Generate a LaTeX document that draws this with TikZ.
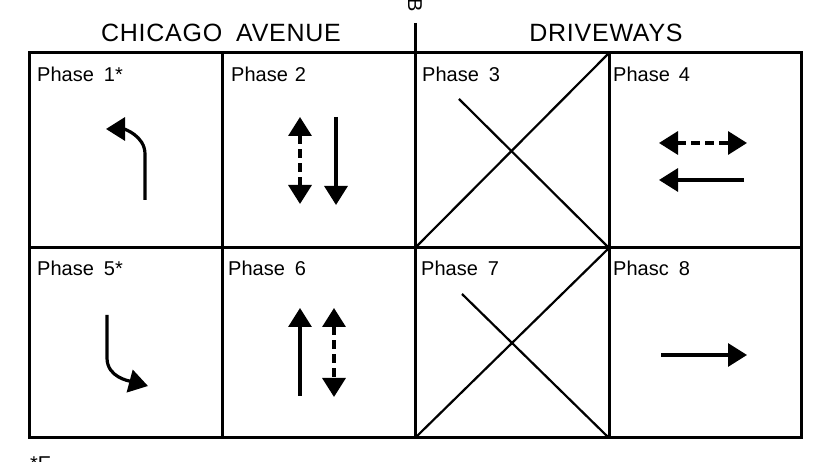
\documentclass[tikz,border=0pt]{standalone}
\usepackage{fontspec}
\setmainfont{Liberation Sans}
\usetikzlibrary{arrows.meta}
\tikzset{
  grid/.style={line width=3pt},
  cross/.style={line width=2.2pt},
  shaft/.style={line width=3.2pt, -{Triangle[length=19pt,width=23pt]}},
  dshaft/.style={line width=3.4pt, {Triangle[length=19pt,width=23pt]}-{Triangle[length=19pt,width=23pt]}, dash pattern=on 9pt off 5pt},
  phase/.style={anchor=base west, inner sep=0pt, font=\fontsize{20}{24}\selectfont},
  header/.style={anchor=base, inner sep=0pt, font=\fontsize{25}{30}\selectfont\addfontfeature{LetterSpace=3}},
}
\begin{document}
\begin{tikzpicture}[x=1pt,y=1pt]
\useasboundingbox (0,0) rectangle (817,462);
% grid
\draw[grid] (29,24) rectangle (801,409);
\draw[grid] (29,214) -- (801,214);
\draw[grid] (222,24) -- (222,409);
\draw[grid] (609,24) -- (609,409);
\coordinate (mtop) at (415,439);
\coordinate (mbot) at (415,24);
\draw[grid] (mtop) -- (mbot);
% headers
\node[header] (hca) at (221,420) {CHICAGO\hspace{14pt}AVENUE};
\node[header] (hdr) at (606,420) {DRIVEWAYS};
\node[rotate=-90, inner sep=0pt, font=\fontsize{20}{24}\selectfont] (hb) at (415,457) {B};
% labels
\node[phase] (p1) at (37,380) {Phase\hspace{10pt}1*};
\node[phase] (p2) at (231,380) {Phase\hspace{7pt}2};
\node[phase] (p3) at (422,380) {Phase\hspace{10pt}3};
\node[phase] (p4) at (613,380) {Phase\hspace{9pt}4};
\node[phase] (p5) at (37,186) {Phase\hspace{10pt}5*};
\node[phase] (p6) at (228,186) {Phase\hspace{10pt}6};
\node[phase] (p7) at (421,186) {Phase\hspace{10pt}7};
\node[phase] (p8) at (613,186) {Phasc\hspace{10pt}8};
% footnote (cut off)
\node[phase] (fn) at (30,-9) {*E};
% crosses
\coordinate (x3a) at (415,214); \coordinate (x3b) at (609,409);
\coordinate (x3c) at (459,363); \coordinate (x3d) at (609,214);
\draw[cross] (x3a) -- (x3b);
\draw[cross] (x3c) -- (x3d);
\coordinate (x7a) at (415,24); \coordinate (x7b) at (609,214);
\coordinate (x7c) at (462,168); \coordinate (x7d) at (609,24);
\draw[cross] (x7a) -- (x7b);
\draw[cross] (x7c) -- (x7d);
% phase 1
\draw[shaft] (145,262) -- (145,308) to[out=90,in=0] (106,333);
% phase 2
\draw[dshaft] (300,345) -- (300,258);
\draw[shaft] (336,345) -- (336,257);
% phase 4
\draw[dshaft] (659,319) -- (747,319);
\draw[shaft] (744,282) -- (659,282);
% phase 5
\draw[shaft] (107,147) -- (107,104) to[out=-90,in=165] (148,76);
% phase 6
\draw[shaft] (300,66) -- (300,154);
\draw[dshaft] (334,154) -- (334,65);
% phase 8
\draw[shaft] (661,107) -- (747,107);
\end{tikzpicture}
\end{document}
